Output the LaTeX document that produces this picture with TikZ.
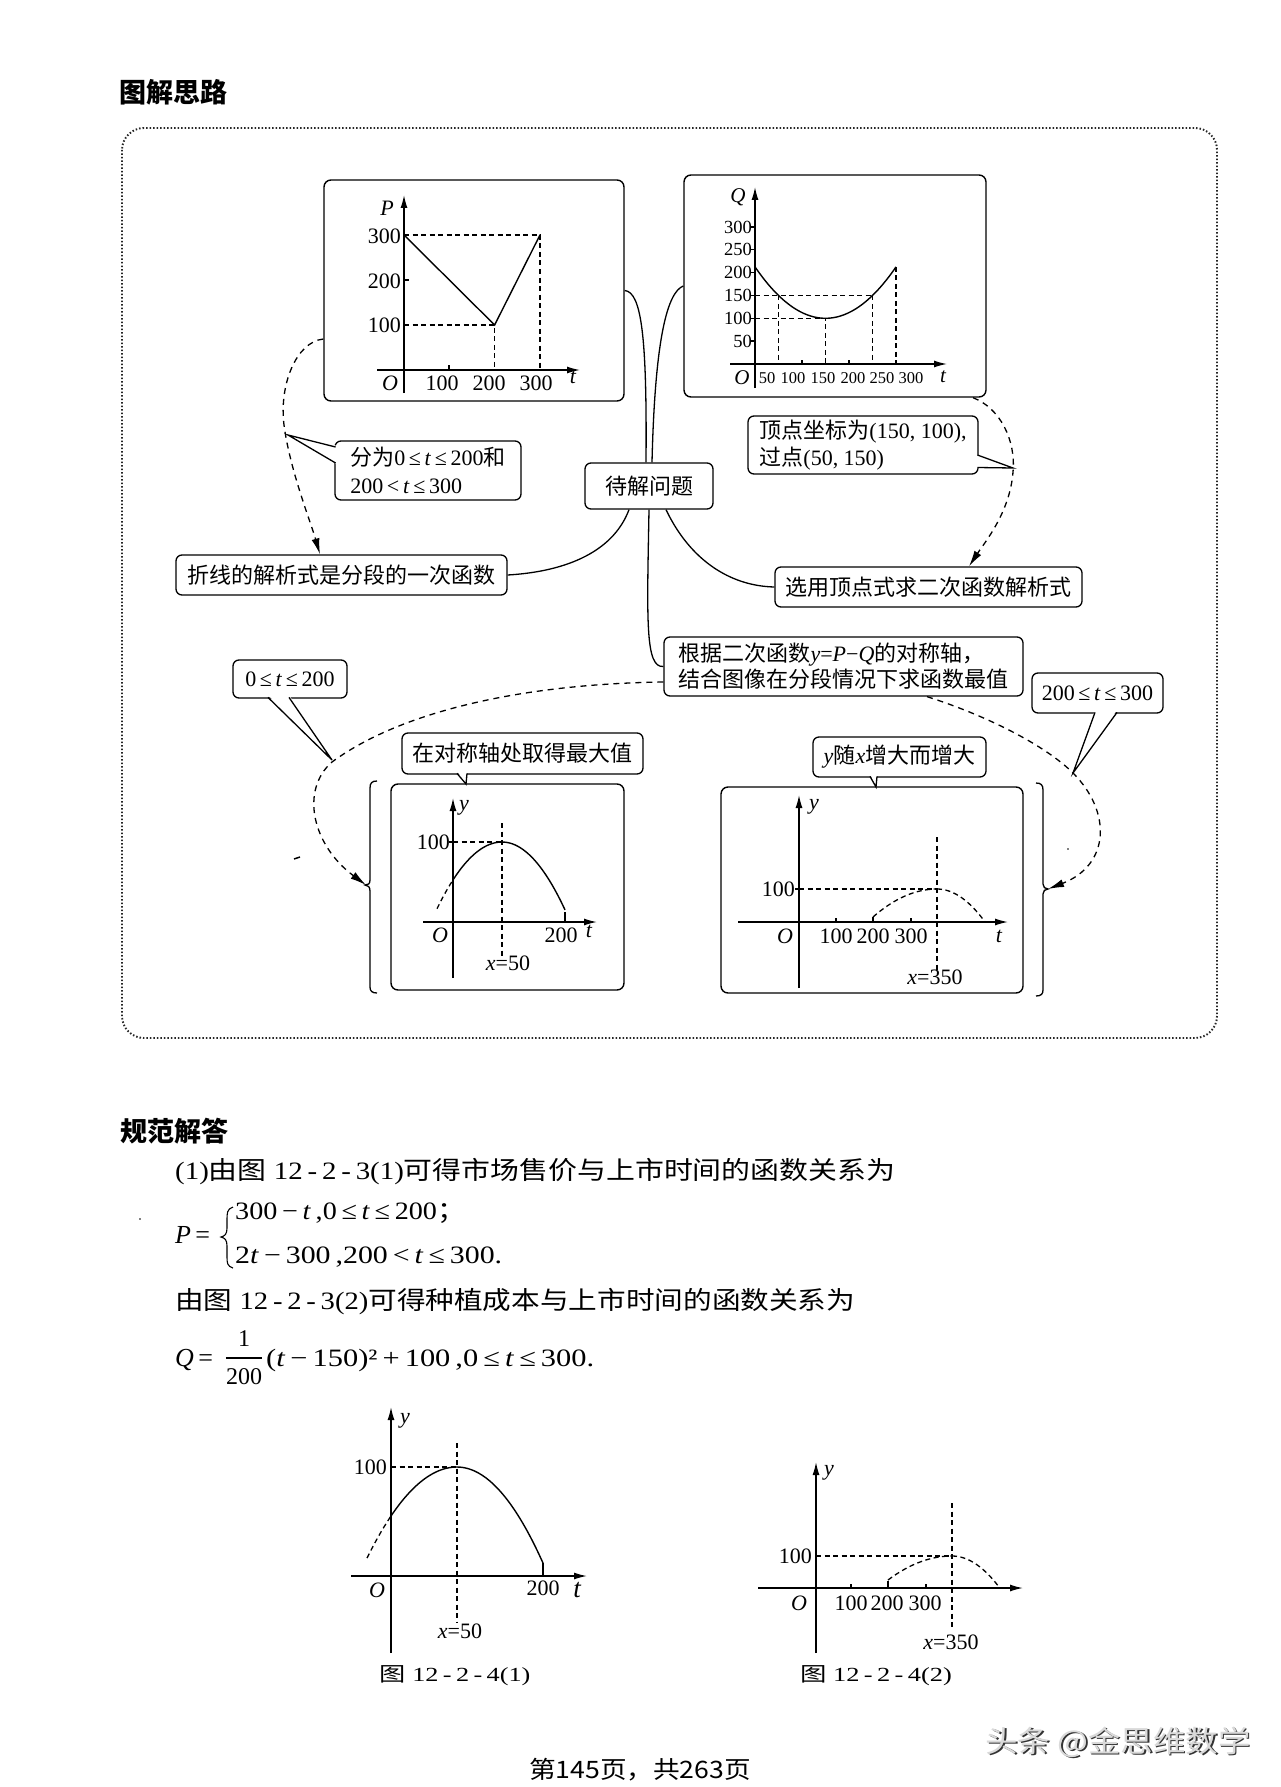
\documentclass[tikz,border=0pt]{standalone}
\usepackage{fontspec}
\setmainfont{Liberation Serif}
\newfontfamily\cjk{Noto Sans CJK SC}
\usepackage{graphicx}
\usetikzlibrary{arrows.meta,calc}
\newcommand\zh[1]{{\cjk #1}}
\newcommand\fitto[2]{\resizebox{#1pt}{\height}{#2}}
\begin{document}
\begin{tikzpicture}[x=1pt,y=-1pt,
 lab/.style={inner sep=0, font=\fontsize{22}{24}\selectfont},
 labi/.style={inner sep=0, font=\fontsize{22}{24}\selectfont\itshape},
 labq/.style={inner sep=0, font=\fontsize{18.5}{20}\selectfont},
 labqx/.style={inner sep=0, font=\fontsize{16.5}{18}\selectfont},
 labqi/.style={inner sep=0, font=\fontsize{21}{23}\selectfont\itshape},
 cbox/.style={draw, line width=1.3pt, rounded corners=6pt, fill=white, inner sep=0, font=\fontsize{22}{28}\selectfont},
 gbox/.style={draw, line width=1.4pt, rounded corners=7pt, inner sep=0, fill=white},
 axis/.style={line width=1.4pt, -{Latex[length=13pt,width=7pt]}},
 crv/.style={line width=1.4pt},
 dsh/.style={line width=1.3pt, dash pattern=on 5pt off 3.5pt},
 conn/.style={line width=1.3pt},
 ptr/.style={line width=1.3pt, line join=miter},
 dconn/.style={line width=1.3pt, dash pattern=on 6pt off 5pt, -{Latex[length=16pt,width=8pt]}},
 frame/.style={line width=1.9pt, black!85, rounded corners=22pt, dash pattern=on 1.5pt off 2pt},
 body/.style={inner sep=0, anchor=west},
 head/.style={inner sep=0, font=\fontsize{27}{30}\selectfont},
]
\useasboundingbox (0,0) rectangle (1280,1787);
\fill[white] (0,0) rectangle (1280,1787);

% headings
\node[head] (h1) at (173,92) {\zh{\bfseries 图解思路}};
\node[head] (h2) at (174,1131) {\zh{\bfseries 规范解答}};

% frame
\draw[frame] (122,128) rectangle (1217,1038);

% node boxes
\node[gbox, minimum width=300pt, minimum height=221pt] (pbox) at (474,290.5) {};
\node[gbox, minimum width=302pt, minimum height=222pt] (qbox) at (835,286) {};
\node[cbox, minimum width=128pt, minimum height=46pt] (dai) at (649,486) {\zh{待解问题}};
\node[cbox, minimum width=331pt, minimum height=40pt] (zhexian) at (341.5,575) {\zh{折线的解析式是分段的一次函数}};
\node[cbox, minimum width=307pt, minimum height=40pt] (xuanyong) at (928.5,587) {\zh{选用顶点式求二次函数解析式}};
\node[cbox, minimum width=359pt, minimum height=59pt, align=left, font=\fontsize{22}{26}\selectfont] (genju) at (843.5,666.5)
 {\zh{根据二次函数}\textit{y}=\textit{P}−\textit{Q}\zh{的对称轴，}\\\zh{结合图像在分段情况下求函数最值}};
\node[gbox, minimum width=233pt, minimum height=206pt] (lg) at (507.5,887) {};
\node[gbox, minimum width=302pt, minimum height=206pt] (rg) at (872,890) {};

% bracket coordinates
\coordinate (lbrk) at (366,885);
\coordinate (rbrk) at (1048,889);

% solid connectors
\draw[conn] (pbox.east) .. controls (642,292) and (647,340) .. ($(dai.north)+(-3,0)$);
\draw[conn] (qbox.west) .. controls (668,292) and (655,335) .. ($(dai.north)+(3,0)$);
\draw[conn] ($(dai.south)+(-20,0)$) .. controls (612,555) and (560,572) .. (zhexian.east);
\draw[conn] ($(dai.south)+(17,0)$) .. controls (690,560) and (730,586) .. (xuanyong.west);
\draw[conn] (dai.south) .. controls (647,620) and (645,668) .. (genju.west);

% dashed connectors
\draw[dconn] (pbox.west |- 0,339) .. controls (296,342) and (279,385) .. (284,425) .. controls (290,470) and (310,520) .. (zhexian.north -| 320,0);
\draw[dconn] (qbox.south -| 973,0) .. controls (1000,408) and (1016,440) .. (1013,472) .. controls (1010,512) and (985,542) .. (xuanyong.north -| 969,0);
\draw[dconn] (genju.west |- 0,682) .. controls (520,684) and (400,712) .. (332,762) .. controls (300,790) and (312,845) .. (lbrk);
\draw[dconn] (genju.south -| 927,0) .. controls (985,715) and (1045,745) .. (1073,773) .. controls (1112,812) and (1110,865) .. (rbrk);

% brackets
\draw[conn] (377,781) .. controls (372,781) and (370,783) .. (370,788) -- (370,880) .. controls (370,884) and (368,885) .. (365,885) .. controls (368,885) and (370,887) .. (370,891) -- (370,987) .. controls (370,991) and (372,993) .. (377,993);
\draw[conn] (1036,783) .. controls (1041,783) and (1043,785) .. (1043,790) -- (1043,884) .. controls (1043,887) and (1045,889) .. (1048,889) .. controls (1045,889) and (1043,891) .. (1043,894) -- (1043,990) .. controls (1043,994) and (1041,996) .. (1036,996);

% callouts
\node[cbox, minimum width=186pt, minimum height=59pt, align=left] (fenwei) at (428,470.5)
 {\zh{分为}0\,≤\,\textit{t}\,≤\,200\zh{和}\\200\,<\,\textit{t}\,≤\,300};
\fill[white] (338,446) -- (288,435) -- (338,465) -- cycle;
\draw[ptr] (335.6,447) -- (288,435) -- (335.6,463);

\node[cbox, minimum width=230pt, minimum height=58pt, align=left, font=\fontsize{22}{27}\selectfont] (dingdian) at (863,445)
 {\zh{顶点坐标为}(150, 100),\\\zh{过点}(50, 150)};
\fill[white] (975,454) -- (1013,468) -- (975,468) -- cycle;
\draw[ptr] (977.4,455) -- (1013,468) -- (977.4,467.5);

\node[cbox, minimum width=114pt, minimum height=38pt] (c1) at (290,679) {0\,≤\,\textit{t}\,≤\,200};
\fill[white] (268,695) -- (332,760) -- (289,695) -- cycle;
\draw[ptr] (268,697.4) -- (332,760) -- (289,697.4);

\node[cbox, minimum width=131pt, minimum height=40pt] (c2) at (1097.5,693) {200\,≤\,\textit{t}\,≤\,300};
\fill[white] (1095,710) -- (1073,773) -- (1117,710) -- cycle;
\draw[ptr] (1095,712.4) -- (1073,773) -- (1117,712.4);

\node[cbox, minimum width=241pt, minimum height=41pt] (c3) at (522.5,753.5) {\zh{在对称轴处取得最大值}};
\fill[white] (457,771) -- (466,784) -- (467,771) -- cycle;
\draw[ptr] (457,773.4) -- (466,784) -- (467,773.4);

\node[cbox, minimum width=173pt, minimum height=40pt] (c4) at (899.5,757) {\textit{y}\zh{随}\textit{x}\zh{增大而增大}};
\fill[white] (870,774) -- (876,787) -- (877,774) -- cycle;
\draw[ptr] (870,776.4) -- (876,787) -- (877,776.4);

% ---------- P graph ----------
\draw[axis] (377,370) -- (580,370);
\draw[axis] (404,393) -- (404,195);
\draw[dsh] (404,235) -- (540,235) -- (540,370);
\draw[dsh] (404,325) -- (494.6,325) -- (494.6,370);
\draw[crv] (404,235) -- (494.6,325) -- (540,235);
\draw[crv] (449,370) -- (449,365);
\draw[crv] (404,280) -- (409,280);
\node[labi] (pP) at (387,208) {P};
\node[lab, anchor=east] (p300) at (401,236) {300};
\node[lab, anchor=east] (p200) at (401,281) {200};
\node[lab, anchor=east] (p100) at (401,325) {100};
\node[labi] (pO) at (390,383) {O};
\node[lab] (pt1) at (442,383) {100};
\node[lab] (pt2) at (489,383) {200};
\node[lab] (pt3) at (536,383) {300};
\node[labi] (ptt) at (573,377) {t};

% ---------- Q graph ----------
\draw[axis] (730,364) -- (947,364);
\draw[axis] (755,388) -- (755,187);
\draw[dsh] (755,295.45) -- (872.5,295.45);
\draw[dsh] (778.5,295.45) -- (778.5,364);
\draw[dsh] (872.5,295.45) -- (872.5,364);
\draw[dsh] (755,318.3) -- (825.5,318.3) -- (825.5,364);
\draw[dsh] (896,266.9) -- (896,364);
\draw[crv] plot[domain=0:300, samples=61, smooth] ({755+0.47*\x},{364-0.457*(((\x-150)/10)*((\x-150)/10)/2+100)});
\foreach \v in {50,100,...,300} \draw[crv] (751,{364-0.457*\v}) -- (755,{364-0.457*\v});
\draw[crv] (802,364) -- (802,360);
\draw[crv] (849,364) -- (849,360);
\node[labqi] (qQ) at (738,197) {Q};
\node[labq, anchor=east] (q300) at (752,227) {300};
\node[labq, anchor=east] (q250) at (752,249.75) {250};
\node[labq, anchor=east] (q200) at (752,272.6) {200};
\node[labq, anchor=east] (q150) at (752,295.45) {150};
\node[labq, anchor=east] (q100) at (752,318.3) {100};
\node[labq, anchor=east] (q50) at (752,341.15) {50};
\node[labqi] (qO) at (742,378) {O};
\node[labqx] (qt1) at (767,378) {50};
\node[labqx] (qt2) at (793,378) {100};
\node[labqx] (qt3) at (823,378) {150};
\node[labqx] (qt4) at (853,378) {200};
\node[labqx] (qt5) at (882,378) {250};
\node[labqx] (qt6) at (911,378) {300};
\node[labqi] (qtt) at (943,377) {t};

% ---------- left inner graph ----------
\draw[axis] (423,922) -- (597,922);
\draw[axis] (453,978) -- (453,798);
\draw[dsh] (453,842) -- (502,842);
\draw[dsh] (502,823) -- (502,957);
\draw[crv] plot[domain=-49:0, samples=25, smooth] ({502+\x},{842+0.0158*\x*\x});
\draw[crv] plot[domain=0:63, samples=25, smooth] ({502+\x},{842+0.0171*\x*\x});
\draw[dsh] plot[domain=-65:-49, samples=8, smooth] ({502+\x},{842+0.0158*\x*\x});
\draw[crv] (565,922) -- (565,912);
\draw[crv] (449,842) -- (453,842);
\node[labi] (ly) at (464,808) {y};
\node[lab, anchor=east] (l100) at (450,842) {100};
\node[labi] (lO) at (440,935) {O};
\node[lab] (l200) at (561,935) {200};
\node[labi] (lt) at (589,931) {t};
\node[lab] (lx) at (508,963) {\textit{x}=50};

% ---------- right inner graph ----------
\draw[axis] (738,922) -- (1008,922);
\draw[axis] (799,988) -- (799,795);
\draw[dsh] (799,889) -- (937,889);
\draw[dsh] (937,837) -- (937,973);
\draw[dsh] plot[domain=-64:0, samples=20, smooth] ({937+\x},{889+0.00684*\x*\x});
\draw[dsh] plot[domain=0:48, samples=16, smooth] ({937+\x},{889+0.0143*\x*\x});
\draw[crv] (836,922) -- (836,918);
\draw[crv] (873,922) -- (873,917);
\draw[crv] (911,922) -- (911,918);
\draw[crv] (795,889) -- (799,889);
\node[labi] (ry) at (814,807) {y};
\node[lab, anchor=east] (r100) at (795,889) {100};
\node[labi] (rO) at (785,936) {O};
\node[lab] (r1) at (836,936) {100};
\node[lab] (r2) at (873,936) {200};
\node[lab] (r3) at (911,936) {300};
\node[labi] (rt) at (999,936) {t};
\node[lab] (rx) at (935,977) {\textit{x}=350};

% artifacts
\draw[line width=1.5pt] (294,859) -- (300,857);
\fill (1068,849) circle (0.9pt);
\fill (140,1219) circle (0.9pt);

% ---------- body text ----------
\node[body] (b1) at (175,1172) {\fitto{720}{\fontsize{25}{30}\selectfont (1)\zh{由图} 12\,-\,2\,-\,3(1)\zh{可得市场售价与上市时间的函数关系为}}};
\node[body, font=\fontsize{26}{30}\selectfont\itshape] (peq) at (175,1235) {P\,\upshape=};
\draw[line width=1.1pt] (233,1207) .. controls (227,1209) and (227,1213) .. (227,1220) -- (227,1228) .. controls (227,1234) and (225,1236) .. (221,1237) .. controls (225,1238) and (227,1240) .. (227,1246) -- (227,1256) .. controls (227,1263) and (227,1266) .. (233,1268);
\node[body] (pl1) at (235,1213) {\fitto{230}{\fontsize{25}{30}\selectfont 300\,−\,\textit{t}\,,0\,≤\,\textit{t}\,≤\,200\zh{；}}};
\node[body] (pl2) at (235,1257) {\fitto{267}{\fontsize{25}{30}\selectfont 2\textit{t}\,−\,300\,,200\,<\,\textit{t}\,≤\,300.}};
\node[body] (b3) at (175,1302) {\fitto{680}{\fontsize{25}{30}\selectfont \zh{由图} 12\,-\,2\,-\,3(2)\zh{可得种植成本与上市时间的函数关系为}}};
\node[body, font=\fontsize{26}{30}\selectfont\itshape] (qeq) at (175,1360) {Q\,\upshape=};
\node[inner sep=0, font=\fontsize{24}{26}\selectfont] (fn) at (244,1339) {1};
\node[inner sep=0, font=\fontsize{24}{26}\selectfont] (fd) at (244,1377) {200};
\draw[line width=1.1pt] (fd.west |- 0,1358) -- (fd.east |- 0,1358);
\node[body] (qrest) at (266,1360) {\fitto{328}{\fontsize{25}{30}\selectfont (\textit{t}\,−\,150)²\,+\,100\,,0\,≤\,\textit{t}\,≤\,300.}};

% ---------- lower graph 1 ----------
\draw[axis] (351,1576) -- (587,1576);
\draw[axis] (391,1653) -- (391,1407);
\draw[dsh] (391,1467) -- (457,1467);
\draw[dsh] (457,1443) -- (457,1623);
\draw[crv] plot[domain=-66:0, samples=25, smooth] ({457+\x},{1467+0.01125*\x*\x});
\draw[crv] plot[domain=0:86, samples=25, smooth] ({457+\x},{1467+0.01298*\x*\x});
\draw[dsh] plot[domain=-90:-66, samples=8, smooth] ({457+\x},{1467+0.01125*\x*\x});
\draw[crv] (543,1576) -- (543,1563);
\node[labi] (ay) at (405,1421) {y};
\node[lab, anchor=east] (a100) at (387,1467) {100};
\node[labi] (aO) at (377,1590) {O};
\node[lab] (a200) at (543,1588) {200};
\node[inner sep=0, font=\fontsize{27}{28}\selectfont\itshape] (att) at (577,1590) {t};
\node[lab] (ax) at (460,1631) {\textit{x}=50};
\node[inner sep=0] (cap1) at (455,1676) {\fitto{151}{\fontsize{20}{22}\selectfont \zh{图} 12\,-\,2\,-\,4(1)}};

% ---------- lower graph 2 ----------
\draw[axis] (758,1588) -- (1023,1588);
\draw[axis] (816,1653) -- (816,1462);
\draw[dsh] (816,1556) -- (952,1556);
\draw[dsh] (952,1503) -- (952,1630);
\draw[dsh] plot[domain=-64:0, samples=20, smooth] ({952+\x},{1556+0.00586*\x*\x});
\draw[dsh] plot[domain=0:47, samples=16, smooth] ({952+\x},{1556+0.01403*\x*\x});
\draw[crv] (851,1588) -- (851,1584);
\draw[crv] (888,1588) -- (888,1581);
\draw[crv] (926,1588) -- (926,1584);
\node[labi] (by) at (829,1473) {y};
\node[lab, anchor=east] (b100) at (812,1556) {100};
\node[labi] (bO) at (799,1603) {O};
\node[lab] (bt1) at (851,1603) {100};
\node[lab] (bt2) at (887,1603) {200};
\node[lab] (bt3) at (925,1603) {300};
\node[lab] (bx) at (951,1642) {\textit{x}=350};
\node[inner sep=0] (cap2) at (876,1676) {\fitto{152}{\fontsize{20}{22}\selectfont \zh{图} 12\,-\,2\,-\,4(2)}};

% ---------- footer ----------
\node[inner sep=0] (foot) at (640,1770) {\fitto{222}{\fontsize{24}{26}\selectfont\cjk 第145页，共263页}};
\node[inner sep=0, text=black!80] (wms) at (1119.5,1743.5) {\fitto{265}{\fontsize{30}{32}\selectfont\cjk 头条 @金思维数学}};
\node[inner sep=0, text=black!15] (wm) at (1118,1742) {\fitto{265}{\fontsize{30}{32}\selectfont\cjk 头条 @金思维数学}};
\end{tikzpicture}
\end{document}
